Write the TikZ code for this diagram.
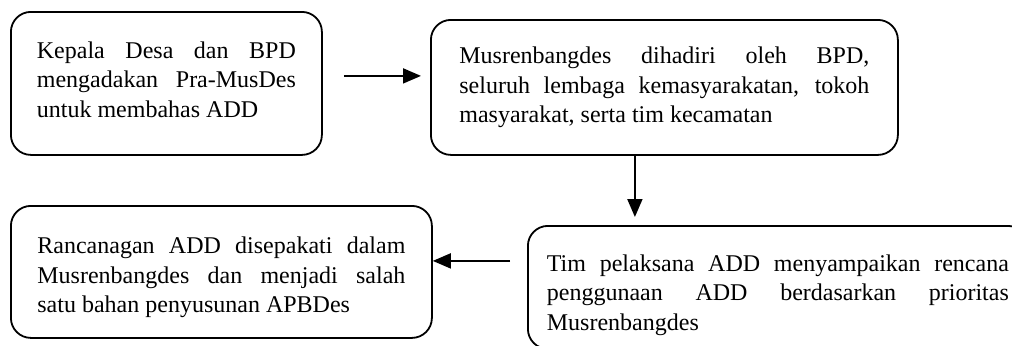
\documentclass[tikz,border=0pt]{standalone}
\usepackage{fontspec}
\setmainfont{Liberation Serif}
\usetikzlibrary{arrows.meta,positioning,calc}

\begin{document}
\begin{tikzpicture}[
  x=0.5pt, y=-0.5pt,
  box/.style={draw, rounded corners=10pt, line width=0.9pt, align=justify,
    inner ysep=0pt, anchor=north west,
    font=\fontsize{12}{14.75}\selectfont},
  arr/.style={-{Triangle[length=9pt,width=7.5pt]}, line width=0.9pt},
]
\useasboundingbox (0,0) rectangle (1012,345);
\clip (0,0) rectangle (1012,345);

% --- Boxes ---
\node[box, minimum width=155.5pt, minimum height=71.5pt, inner xsep=13pt,
  text width=129.5pt] (kepala) at (10,11)
  {Kepala Desa dan BPD\linebreak mengadakan Pra-MusDes\linebreak untuk membahas ADD\rule[-4pt]{0pt}{4pt}};
\node[box, minimum width=233.5pt, minimum height=67.5pt, inner xsep=14.25pt,
  text width=205pt] (musren) at (430,19)
  {Musrenbangdes dihadiri oleh BPD,\linebreak seluruh lembaga kemasyarakatan, tokoh\linebreak masyarakat, serta tim kecamatan};
\node[box, minimum width=210.5pt, minimum height=66pt, inner xsep=13.25pt,
  text width=184pt] (rancang) at (10,205)
  {\rule{0pt}{13.8pt}Rancanagan ADD disepakati dalam\linebreak Musrenbangdes dan menjadi salah\linebreak satu bahan penyusunan APBDes};
\node[box, minimum width=247.5pt, minimum height=61.5pt, inner xsep=9.5pt,
  text width=231pt] (timpel) at (527,225)
  {\rule{0pt}{15.8pt}Tim pelaksana ADD menyampaikan rencana\linebreak penggunaan ADD berdasarkan prioritas\linebreak Musrenbangdes};

% --- Arrows ---
\draw[arr, shorten <=10.5pt, shorten >=4.5pt]
  ([yshift=3.75pt]kepala.east) -- ([yshift=3.75pt]kepala.east -| musren.west);
\draw[arr, shorten >=4pt]
  ([xshift=-14.75pt]musren.south) -- ([xshift=-14.75pt]musren.south |- timpel.north);
\draw[arr, shorten <=8.5pt]
  ([yshift=5.5pt]rancang.east -| timpel.west) -- ([yshift=5.5pt]rancang.east);
\end{tikzpicture}
\end{document}
